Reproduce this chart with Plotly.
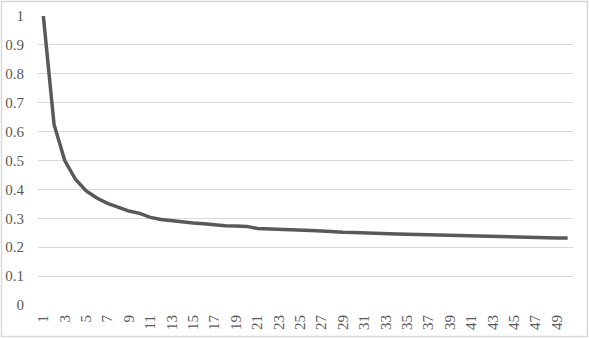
import plotly.graph_objects as go

categories = list(range(1, 51))
values = [1.0, 0.625, 0.50, 0.435, 0.395, 0.37, 0.352, 0.338, 0.325, 0.317,
          0.303, 0.296, 0.291, 0.287, 0.284, 0.281, 0.277, 0.274, 0.273, 0.272,
          0.265, 0.264, 0.262, 0.261, 0.259, 0.258, 0.256, 0.253, 0.252, 0.251,
          0.249, 0.248, 0.247, 0.246, 0.245, 0.244, 0.243, 0.242, 0.241, 0.240,
          0.238, 0.236, 0.235, 0.234, 0.234, 0.233, 0.233, 0.232, 0.232, 0.232]
y_ticks = [0, 0.1, 0.2, 0.3, 0.4, 0.5, 0.6, 0.7, 0.8, 0.9, 1]
y_labels = ["0", "0.1", "0.2", "0.3", "0.4", "0.5", "0.6", "0.7", "0.8", "0.9", "1"]

W, H = 589, 338
ml, mr, mt, mb = 38, 16, 16, 33
pw, ph = W - ml - mr, H - mt - mb

fig = go.Figure()
fig.add_trace(go.Scatter(x=categories, y=values, mode="lines",
                         line=dict(color="#595959", width=3.5)))

fig.update_layout(
    width=W, height=H,
    margin=dict(l=ml, r=mr, t=mt, b=mb, autoexpand=False),
    paper_bgcolor="white", plot_bgcolor="white",
    showlegend=False,
    font=dict(family="Liberation Serif", size=15, color="#595959"),
    xaxis=dict(range=[0.5, 50.5], tickmode="linear", tick0=1, dtick=2,
               tickangle=-90, showgrid=False, zeroline=False, showline=False,
               automargin=False,
               ticks="outside", ticklen=3, tickcolor="rgba(0,0,0,0)"),
    yaxis=dict(range=[0, 1], tickvals=y_ticks, ticktext=y_labels,
               showgrid=True, gridcolor="#d9d9d9", gridwidth=1,
               zeroline=False, showline=False, automargin=False,
               ticks="outside", ticklen=10, tickcolor="rgba(0,0,0,0)"),
    shapes=[dict(type="rect", xref="paper", yref="paper",
                 x0=(1.5 - ml) / pw, x1=(W - 1.5 - ml) / pw,
                 y0=-(mb - 1.5) / ph, y1=1 + (mt - 1.5) / ph,
                 line=dict(color="#d9d9d9", width=1.5), layer="below")],
)

fig.write_html("out.html",
               config={"displayModeBar": False},
               post_script="document.body.style.margin='0';document.body.style.overflow='hidden';")
